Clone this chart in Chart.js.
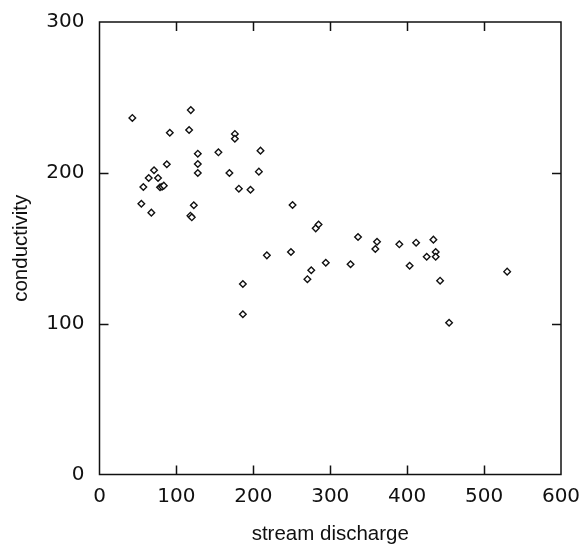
<!DOCTYPE html>
<html>
<head>
<meta charset="utf-8">
<script src="https://cdn.jsdelivr.net/npm/chart.js@4"></script>
<style>
  html, body { margin: 0; padding: 0; background: #fff; }
  canvas { display: block; }
</style>
</head>
<body>
<canvas id="c" width="583" height="549"></canvas>
<script>
const streamDischarge = [
  42.7, 118.7, 91.4, 116.5, 176, 176, 127.8, 154.6, 209.3, 87.5,
  127.8, 70.9, 127.8, 168.9, 207.2, 64, 76.1, 57, 78.7, 81.3,
  83.6, 181.2, 196.3, 54.4, 122.6, 67.4, 118.2, 120, 217.6, 186.4,
  186.4, 251, 281.1, 284.8, 248.9, 275.3, 270.3, 294.2, 326.4, 336.1,
  360.8, 358.6, 389.8, 411.6, 403.2, 425.4, 434.1, 437.1, 437.1, 442.8,
  454.5, 530
];
const conductivity = [
  236.4, 241.6, 226.6, 228.4, 225.8, 222.6, 212.7, 213.6, 214.7, 205.7,
  205.9, 201.7, 199.9, 199.9, 200.8, 196.6, 196.6, 190.6, 190.4, 190.8,
  191.5, 189.5, 188.8, 179.5, 178.5, 173.6, 171.6, 170.5, 145.3, 126.3,
  106.2, 178.7, 163.2, 165.7, 147.5, 135.4, 129.5, 140.4, 139.4, 157.5,
  154.3, 149.5, 152.6, 153.7, 138.4, 144.4, 155.7, 147.5, 144.4, 128.5,
  100.6, 134.5
];
const xTicks = [0, 100, 200, 300, 400, 500, 600];
const yTicks = [0, 100, 200, 300];
const xTitle = 'stream discharge';
const yTitle = 'conductivity';

const points = streamDischarge.map((x, i) => ({ x: x, y: conductivity[i] }));

const frameAndTicks = {
  id: 'frameAndTicks',
  afterDraw(chart) {
    const ctx = chart.ctx;
    const a = chart.chartArea;
    const xs = chart.scales.x, ys = chart.scales.y;
    const len = 9;
    ctx.save();
    ctx.strokeStyle = '#111';
    ctx.lineWidth = 1.5;
    ctx.strokeRect(a.left, a.top, a.right - a.left, a.bottom - a.top);
    ctx.beginPath();
    xTicks.slice(1, -1).forEach(v => {
      const px = Math.round(xs.getPixelForValue(v)) + 0.5;
      ctx.moveTo(px, a.bottom); ctx.lineTo(px, a.bottom - len);
      ctx.moveTo(px, a.top); ctx.lineTo(px, a.top + len);
    });
    yTicks.slice(1, -1).forEach(v => {
      const py = Math.round(ys.getPixelForValue(v)) + 0.5;
      ctx.moveTo(a.left, py); ctx.lineTo(a.left + len, py);
      ctx.moveTo(a.right, py); ctx.lineTo(a.right - len, py);
    });
    ctx.stroke();
    ctx.restore();
  }
};

new Chart(document.getElementById('c'), {
  type: 'scatter',
  data: {
    datasets: [{
      data: points,
      pointStyle: 'rectRot',
      pointRadius: 3.3,
      pointHoverRadius: 3.3,
      borderColor: '#111',
      backgroundColor: '#fff',
      pointBorderWidth: 1.4
    }]
  },
  options: {
    responsive: false,
    animation: false,
    events: [],
    layout: { padding: { top: 22, right: 22, left: 0, bottom: 0 } },
    plugins: { legend: { display: false }, tooltip: { enabled: false } },
    scales: {
      x: {
        type: 'linear',
        min: 0, max: 600,
        afterBuildTicks: s => { s.ticks = xTicks.map(v => ({ value: v })); },
        afterFit: s => { s.height = 74.5; s.paddingLeft = 0; s.paddingRight = 0; },
        grid: { display: false, drawTicks: false },
        border: { display: false },
        ticks: {
          padding: 10,
          color: '#111',
          font: { family: 'DejaVu Sans', size: 20 },
          maxRotation: 0
        },
        title: {
          display: true,
          text: xTitle,
          color: '#111',
          font: { family: 'Liberation Sans', size: 20.5 },
          padding: { top: 0, bottom: 2 }
        }
      },
      y: {
        type: 'linear',
        min: 0, max: 300,
        afterBuildTicks: s => { s.ticks = yTicks.map(v => ({ value: v })); },
        afterFit: s => { s.width = 99.5; s.paddingTop = 0; s.paddingBottom = 0; },
        grid: { display: false, drawTicks: false },
        border: { display: false },
        ticks: {
          padding: 15,
          color: '#111',
          font: { family: 'DejaVu Sans', size: 20 }
        },
        title: {
          display: true,
          text: yTitle,
          color: '#111',
          font: { family: 'Liberation Sans', size: 20.5 },
          padding: { top: 9, bottom: 0 }
        }
      }
    }
  },
  plugins: [frameAndTicks]
});
</script>
</body>
</html>
